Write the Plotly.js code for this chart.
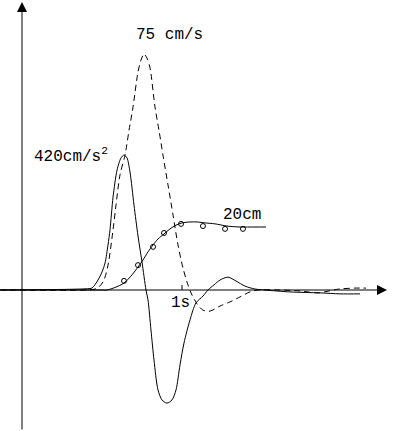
<!DOCTYPE html>
<html>
<head>
<meta charset="utf-8">
<script src="https://cdn.plot.ly/plotly-3.0.1.min.js"></script>
<style>html,body{margin:0;padding:0;background:#fff;}#chart{width:409px;height:431px;}</style>
</head>
<body>
<div id="chart"></div>
<script>
// time in seconds
const accTime = [-0.1375, 0.28, 0.41, 0.4375, 0.475, 0.5, 0.519, 0.5375, 0.55, 0.569, 0.594, 0.619, 0.6375, 0.656, 0.675, 0.7, 0.725, 0.75, 0.775, 0.7875, 0.806, 0.825, 0.85, 0.875, 0.906, 0.9375, 0.9625, 0.9875, 1.0125, 1.05, 1.0875, 1.131, 1.1625, 1.2, 1.2375, 1.2875, 1.3375, 1.394, 1.456, 1.519, 1.675, 1.8625, 1.9875, 2.1125];
// acceleration, cm/s^2 (peak 420)
const accValue = [0, 2, 4, 6, 31, 56, 84, 140, 187, 289, 373, 411, 420, 411, 367, 264, 168, 87, 0, -31, -124, -218, -311, -342, -352, -342, -311, -233, -165, -93, -40, -19, 0, 16, 31, 40, 28, 12, 3, 0, -6, -9, -12, -12];

const velTime = [-0.1375, 0.4, 0.456, 0.4875, 0.5125, 0.5375, 0.569, 0.5875, 0.6125, 0.644, 0.669, 0.694, 0.725, 0.744, 0.7625, 0.781, 0.8, 0.831, 0.856, 0.881, 0.9125, 0.944, 0.975, 1.006, 1.0375, 1.0625, 1.094, 1.131, 1.175, 1.2375, 1.3, 1.3625, 1.425, 1.475, 1.6125, 1.7375, 1.85, 1.98, 2.08, 2.15];
// velocity, cm/s (peak 75)
const velValue = [0, 0, 0.3, 1.3, 3.2, 7.9, 19.1, 27.0, 36.6, 42.9, 50.8, 58.2, 69.3, 73.1, 75, 73.7, 70.6, 58.2, 50.8, 42.9, 33.4, 23.8, 14.3, 7.0, 1.6, -1.6, -4.4, -6.4, -6.7, -5.1, -3.8, -2.2, -0.6, 0, 0, -0.3, -0.9, 0.3, 0.6, 0.6];

const dispTime = [-0.1375, 0.4875, 0.531, 0.581, 0.6375, 0.6875, 0.725, 0.756, 0.7875, 0.819, 0.85, 0.8875, 0.925, 0.9625, 1.0, 1.05, 1.094, 1.144, 1.206, 1.281, 1.3625, 1.456, 1.525];
// displacement, cm (settles at 20)
const dispValue = [0, 0, 0, 0.8, 2.2, 4.8, 7.3, 9.5, 12.1, 14.3, 16.2, 17.8, 19.4, 20.6, 21.3, 21.6, 21.6, 21.3, 21.0, 20.3, 20.0, 20.0, 20.0];

// measured displacement points (circles)
const measTime = [0.6375, 0.725, 0.819, 0.8875, 0.994, 1.131, 1.269, 1.381];
const measValue = [2.9, 7.9, 13.7, 18.1, 21.0, 20.3, 19.4, 19.4];

const labels = {acc: '420cm/s<sup>2</sup>', vel: '75 cm/s', disp: '20cm', time: '1s'};

const lineStyle = {color: '#000', width: 1};
const traces = [
  {x: accTime, y: accValue, mode: 'lines', line: Object.assign({shape: 'spline', smoothing: 0.8}, lineStyle), yaxis: 'y', hoverinfo: 'skip'},
  {x: velTime, y: velValue, mode: 'lines', line: Object.assign({shape: 'spline', smoothing: 0.8, dash: '6px,4px'}, lineStyle), yaxis: 'y2', hoverinfo: 'skip'},
  {x: dispTime, y: dispValue, mode: 'lines', line: Object.assign({shape: 'spline', smoothing: 0.8}, lineStyle), yaxis: 'y3', hoverinfo: 'skip'},
  {x: measTime, y: measValue, mode: 'markers', marker: {symbol: 'circle-open', size: 5, color: '#000', line: {width: 1, color: '#000'}}, yaxis: 'y3', hoverinfo: 'skip'}
];

const W = 409, H = 431;
const px = (v) => v / W;           // paper x from pixel
const py = (v) => 1 - v / H;       // paper y from pixel
const font = {family: 'Liberation Mono, DejaVu Sans Mono, monospace', size: 16, color: '#000'};

const hidden = {visible: false, showgrid: false, zeroline: false, fixedrange: true};
const txt = (x, y, text) => ({xref: 'paper', yref: 'paper', x: px(x), y: py(y), xanchor: 'center', yanchor: 'middle', text: text, showarrow: false, font: font});
const layout = {
  width: W, height: H,
  margin: {l: 0, r: 0, t: 0, b: 0},
  paper_bgcolor: '#fff', plot_bgcolor: '#fff',
  showlegend: false,
  xaxis: Object.assign({range: [-0.1375, 2.41875]}, hidden),
  yaxis: Object.assign({range: [-438.67, 902.22]}, hidden),
  yaxis2: Object.assign({range: [-44.81, 92.16], overlaying: 'y'}, hidden),
  yaxis3: Object.assign({range: [-44.76, 92.06], overlaying: 'y'}, hidden),
  shapes: [
    {type: 'line', xref: 'x', yref: 'paper', x0: 1, x1: 1, y0: py(290), y1: py(285), line: {color: '#000', width: 1}}
  ],
  annotations: [
    // axes with arrowheads
    {xref: 'paper', yref: 'paper', x: px(387), y: py(290), ax: -387, ay: 0, text: '', showarrow: true, arrowhead: 2, arrowsize: 2, arrowwidth: 1, arrowcolor: '#000', standoff: 0},
    {xref: 'paper', yref: 'paper', x: px(22), y: py(2), ax: 0, ay: 440, text: '', showarrow: true, arrowhead: 2, arrowsize: 2, arrowwidth: 1, arrowcolor: '#000', standoff: 0},
    txt(169, 35, labels.vel),
    txt(71, 155, labels.acc),
    txt(242, 215, labels.disp),
    txt(180, 303, labels.time)
  ]
};

Plotly.newPlot('chart', traces, layout, {staticPlot: true, displayModeBar: false});
</script>
</body>
</html>
